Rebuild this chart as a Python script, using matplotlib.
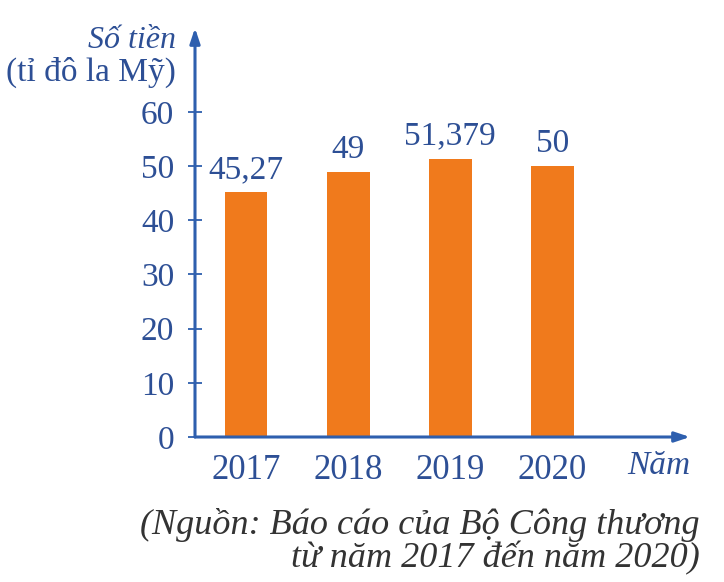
import matplotlib.pyplot as plt

# du lieu
years = ['2017', '2018', '2019', '2020']
values = [45.27, 49, 51.379, 50]
value_labels = ['45,27', '49', '51,379', '50']
yticks = [0, 10, 20, 30, 40, 50, 60]

bar_color = '#f07a1c'
axis_color = '#2e5fae'
text_color = '#2d4f95'
src_color = '#333333'

plt.rcParams['font.family'] = ['Liberation Serif', 'DejaVu Serif']

W, H = 724, 582
fig = plt.figure(figsize=(W / 100, H / 100), dpi=100)
ax = fig.add_axes([195 / W, (H - 437) / H, (690 - 195) / W, (437 - 28) / H])

x = list(range(len(years)))
ax.bar(x, values, width=0.42, color=bar_color, zorder=2)

ax.set_xlim(-0.5, 4.35)
ax.set_ylim(0, 75.5)

for s in ax.spines.values():
    s.set_visible(False)

# truc co mui ten
ax.annotate('', xy=(0, 1), xytext=(0, 0), xycoords='axes fraction',
            arrowprops=dict(arrowstyle='-|>,head_length=0.9,head_width=0.3',
                            color=axis_color, lw=2.2, shrinkA=0, shrinkB=0))
ax.annotate('', xy=(1, 0), xytext=(0, 0), xycoords='axes fraction',
            arrowprops=dict(arrowstyle='-|>,head_length=0.9,head_width=0.3',
                            color=axis_color, lw=2.2, shrinkA=0, shrinkB=0))

ax.set_yticks(yticks)
ax.set_yticklabels([str(t) for t in yticks], fontsize=24, color=text_color)
ax.tick_params(axis='y', direction='inout', length=10, width=1.3,
               color=axis_color, pad=10)
ax.set_xticks(x)
ax.set_xticklabels(years, fontsize=25, color=text_color)
ax.tick_params(axis='x', length=0, pad=12)

for xi, v, lab in zip(x, values, value_labels):
    ax.annotate(lab, (xi, v), xytext=(0, 5), textcoords='offset points',
                ha='center', va='bottom', fontsize=24, color=text_color)

fig.text(176 / W, 1 - 40 / H, 'Số tiền', ha='right', va='center',
         fontsize=23, style='italic', color=text_color)
fig.text(176 / W, 1 - 72 / H, '(tỉ đô la Mỹ)', ha='right', va='center',
         fontsize=24, color=text_color)
fig.text(690 / W, 1 - 466 / H, 'Năm', ha='right', va='center',
         fontsize=24, style='italic', color=text_color)

fig.text(700 / W, 1 - 525 / H, '(Nguồn: Báo cáo của Bộ Công thương',
         ha='right', va='center', fontsize=26, style='italic', color=src_color)
fig.text(700 / W, 1 - 558 / H, 'từ năm 2017 đến năm 2020)',
         ha='right', va='center', fontsize=26, style='italic', color=src_color)

fig.savefig('out.png', dpi=100)
